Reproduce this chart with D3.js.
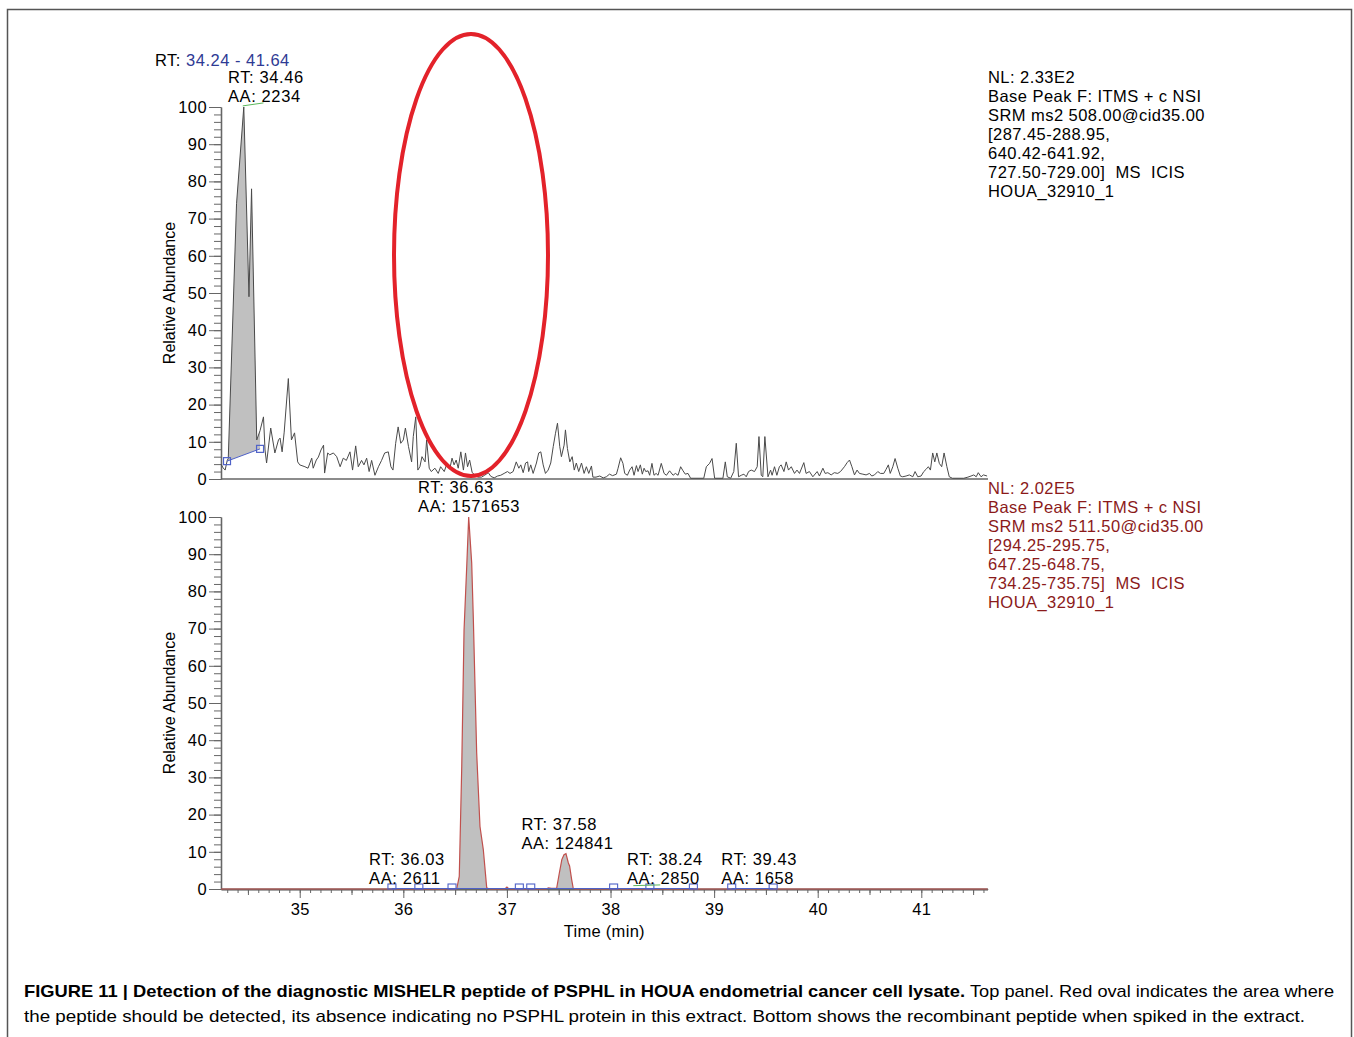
<!DOCTYPE html>
<html>
<head>
<meta charset="utf-8">
<script src="https://cdn.jsdelivr.net/npm/d3@7"></script>
<style>
  body { margin: 0; background: #fff; }
  svg { display: block; }
  text { font-family: "Liberation Sans", Arial, Helvetica, sans-serif; }
</style>
</head>
<body>
<svg width="1354" height="1037"></svg>
<script>
// ---- data ----
const timeRange = [34.24, 41.64];
const yTicks = [0, 10, 20, 30, 40, 50, 60, 70, 80, 90, 100];
const xTicks = [35, 36, 37, 38, 39, 40, 41];

// top panel: MISHELR in HOUA lysate (time min, relative abundance)
const topTrace = [
  [34.24,4],[34.26,3],[34.28,2.4],[34.30,5],[34.31,5.5],[34.39,74],[34.46,100],[34.51,49],[34.535,78],[34.585,10.5],
  [34.617,13],[34.65,16.7],[34.665,7.8],[34.68,4.3],[34.72,13.7],[34.76,7],[34.795,10.5],[34.81,11],[34.83,7.3],[34.85,12.6],
  [34.89,27],[34.92,10.5],[34.95,12.4],[34.98,4.6],[35.0,3.8],[35.05,3.3],[35.08,2.9],[35.116,5.6],[35.13,2.9],[35.16,5.1],
  [35.18,5.9],[35.205,7.8],[35.23,9.1],[35.24,1.6],[35.27,7],[35.29,6.5],[35.325,7],[35.357,6],[35.39,3.3],[35.42,5.6],
  [35.45,5],[35.485,7.3],[35.51,2.4],[35.54,8.9],[35.565,3.3],[35.597,5],[35.62,3.8],[35.646,5.6],[35.67,2],[35.694,5],
  [35.726,1],[35.76,3.3],[35.79,5],[35.82,7],[35.855,7.3],[35.88,3.3],[35.90,2.4],[35.926,9.6],[35.95,14],[35.975,9.6],
  [36.0,10.5],[36.02,13.7],[36.05,8.7],[36.08,4.6],[36.096,11.4],[36.12,16.7],[36.14,2.4],[36.16,3.3],[36.18,6],[36.21,4.6],
  [36.225,10.5],[36.25,2.9],[36.27,2],[36.305,2.9],[36.337,1.5],[36.36,3.3],[36.395,2],[36.417,3.8],[36.45,2.9],[36.47,5.6],
  [36.49,3.8],[36.51,5.1],[36.53,2.9],[36.555,7.3],[36.58,2.4],[36.60,7],[36.62,3.3],[36.64,5.1],[36.665,1.7],[36.69,1.1],
  [36.72,0.5],[36.755,0.5],[36.785,1],[36.82,1.7],[36.845,0.7],[36.877,0.3],[36.91,0.8],[36.94,1],[36.973,1.5],[37.005,2],
  [37.03,1.5],[37.06,2],[37.09,4.6],[37.115,2.9],[37.134,3.8],[37.157,1.7],[37.18,4.3],[37.20,4.6],[37.21,2],[37.23,3.8],
  [37.253,1.5],[37.285,4.3],[37.307,7],[37.327,7.3],[37.35,3.8],[37.372,1.5],[37.398,2.4],[37.423,4.3],[37.447,8.7],[37.469,12.3],
  [37.488,15],[37.51,8.7],[37.526,6],[37.552,9.1],[37.565,13.2],[37.584,8.2],[37.607,4.6],[37.63,6],[37.65,2.4],[37.67,4.3],
  [37.693,2],[37.72,4.3],[37.745,1.5],[37.767,3.3],[37.79,1.5],[37.816,3.5],[37.83,0.5],[37.86,0.5],[37.896,0.8],[37.93,0.3],
  [37.96,0.6],[37.99,1.3],[38.02,0.9],[38.057,1.3],[38.073,2.9],[38.098,5.7],[38.12,4.2],[38.137,1.5],[38.163,1],[38.185,2.4],
  [38.208,3.3],[38.227,1],[38.25,3.6],[38.266,2],[38.288,3.8],[38.307,1.3],[38.324,2.9],[38.34,2],[38.362,2.2],[38.378,1],
  [38.40,4.2],[38.42,1],[38.44,1.5],[38.459,1],[38.49,4.2],[38.517,1.5],[38.54,1],[38.57,2.2],[38.604,1],[38.626,1.5],
  [38.652,1],[38.677,3.3],[38.70,2.2],[38.722,1.3],[38.748,1.5],[38.773,0.2],[38.90,0.2],[38.925,3.3],[38.956,4.2],[38.98,5.5],
  [39.005,0.2],[39.085,0.2],[39.108,4.6],[39.127,0.6],[39.16,0.2],[39.19,2],[39.214,9.6],[39.236,0.6],[39.262,1],[39.288,1.3],
  [39.31,0.6],[39.333,2],[39.358,2.4],[39.39,2],[39.416,3.3],[39.433,11.4],[39.455,1],[39.47,0.6],[39.49,11.4],[39.52,0.6],
  [39.545,2.4],[39.56,1],[39.583,3.3],[39.606,1],[39.63,3.3],[39.647,3.8],[39.674,2],[39.696,4.6],[39.718,2.4],[39.745,3.3],
  [39.776,1.5],[39.80,2.4],[39.824,1.5],[39.866,4.4],[39.888,1.5],[39.92,2],[39.953,0.6],[39.995,2],[40.017,0.8],[40.05,2.9],
  [40.072,1.5],[40.098,1.7],[40.13,1.1],[40.16,1.7],[40.194,1.5],[40.22,2],[40.258,3.3],[40.284,4.4],[40.307,5.1],[40.33,3.3],
  [40.355,1.1],[40.38,2.4],[40.403,1.5],[40.436,1.3],[40.467,1.1],[40.50,1.5],[40.522,0.8],[40.548,1.1],[40.58,2],[40.605,1.5],
  [40.638,1.5],[40.66,2.6],[40.682,3.8],[40.70,1.5],[40.725,3.3],[40.747,5.5],[40.773,2.9],[40.798,0.8],[40.82,0.6],[40.853,0.8],
  [40.885,1.1],[40.918,0.6],[40.94,2],[40.966,0.6],[40.998,0.8],[41.024,2],[41.046,2.6],[41.068,3.3],[41.088,2.4],[41.11,7],
  [41.13,4.6],[41.15,7],[41.174,4.2],[41.197,3.3],[41.22,7],[41.247,3.3],[41.27,0.6],[41.30,0.2],[41.41,0.2],[41.45,0.5],
  [41.48,0.8],[41.507,1.1],[41.53,0.6],[41.55,1.7],[41.577,0.6],[41.60,1.1],[41.635,0.8]
];
const topPeakBase = [[34.298, 4.8], [34.617, 8.1]];
const topApexMark = [[34.45, 100.3], [34.65, 101.1]];
const topPeakLabels = [{ rt: "34.46", aa: "2234", t: 34.46, v: 100 }];
const topInfo = ["NL: 2.33E2", "Base Peak F: ITMS + c NSI", "SRM ms2 508.00@cid35.00",
  "[287.45-288.95,", "640.42-641.92,", "727.50-729.00]  MS  ICIS", "HOUA_32910_1"];

// bottom panel: spiked recombinant peptide
const bottomTrace = [
  [34.24,0],[36.515,0],[36.54,3.4],[36.564,33],[36.586,69.5],[36.612,86.7],[36.631,100],[36.66,87.6],[36.676,72.4],
  [36.708,36.6],[36.74,16.8],[36.772,10.6],[36.805,0.3],[36.83,0],[36.98,0],[37.0,0.5],[37.02,0],[37.38,0],[37.40,0.3],
  [37.43,0.2],[37.48,0.2],[37.506,4.3],[37.53,7.9],[37.551,9.2],[37.57,9.5],[37.593,7],[37.605,6.2],[37.625,2.5],
  [37.64,0.2],[37.66,0],[41.64,0]
];
const bottomPeaks = [[36.515, 36.805], [37.48, 37.64]];
const bottomMarkers = [35.89, 36.15, 36.47, 37.12, 37.23, 38.03, 38.38, 38.80, 39.17, 39.57];
const bottomBaseSegs = [[35.89, 38.80], [39.17, 39.57]];
const bottomApexMark = [[38.22, 0.9], [38.48, 1.1]];
const bottomPeakLabels = [
  { rt: "36.63", aa: "1571653", t: 36.63, v: 100 },
  { rt: "37.58", aa: "124841", t: 37.58, v: 9.5 },
  { rt: "36.03", aa: "2611", t: 36.03, v: 0 },
  { rt: "38.24", aa: "2850", t: 38.24, v: 0 },
  { rt: "39.43", aa: "1658", t: 39.43, v: 0 }
];
const bottomInfo = ["NL: 2.02E5", "Base Peak F: ITMS + c NSI", "SRM ms2 511.50@cid35.00",
  "[294.25-295.75,", "647.25-648.75,", "734.25-735.75]  MS  ICIS", "HOUA_32910_1"];

const captionBold = "FIGURE 11 | Detection of the diagnostic MISHELR peptide of PSPHL in HOUA endometrial cancer cell lysate.";
const captionRest1 = "Top panel. Red oval indicates the area where";
const captionLine2 = "the peptide should be detected, its absence indicating no PSPHL protein in this extract. Bottom shows the recombinant peptide when spiked in the extract.";

// ---- drawing ----
const svg = d3.select("svg");
const x = d3.scaleLinear().domain(timeRange).range([221, 987.6]);
const yTop = d3.scaleLinear().domain([0, 100]).range([479, 107]);
const yBot = d3.scaleLinear().domain([0, 100]).range([889, 517]);

svg.append("rect")
  .attr("x", 7.5).attr("y", 9.5).attr("width", 1344).attr("height", 1040)
  .attr("fill", "none").attr("stroke", "#555").attr("stroke-width", 1.5);

function interp(trace, t) {
  for (let i = 1; i < trace.length; i++) {
    if (trace[i][0] >= t) {
      const a = trace[i - 1], b = trace[i];
      return a[1] + (t - a[0]) / (b[0] - a[0]) * (b[1] - a[1]);
    }
  }
  return trace[trace.length - 1][1];
}

function drawYAxis(y) {
  const minor = svg.append("g").attr("transform", "translate(221,0)")
    .call(d3.axisLeft(y).tickValues(d3.range(0, 101, 2)).tickSize(7).tickSizeOuter(0).tickFormat(""));
  const major = svg.append("g").attr("transform", "translate(221,0)")
    .call(d3.axisLeft(y).tickValues(yTicks).tickSize(12).tickSizeOuter(0).tickPadding(2));
  [minor, major].forEach(g => {
    g.selectAll("line").attr("stroke", "#666");
    g.select(".domain").attr("stroke", "#666").attr("stroke-width", 1.3);
  });
  major.selectAll("text").attr("font-size", 16.5).attr("fill", "#000")
    .attr("letter-spacing", 0.4).style("font-family", "'Liberation Sans', Arial, sans-serif");
  svg.append("text")
    .attr("transform", `translate(175,${(y(0) + y(100)) / 2}) rotate(-90)`)
    .attr("text-anchor", "middle").attr("font-size", 16).text("Relative Abundance");
}

// the software nudges a label sideways when it would crowd a neighbour
const labelNudge = { "38.24": 29 };

function drawPeakLabels(list, y, color) {
  list.forEach(d => {
    const g = svg.append("g").attr("fill", color).attr("font-size", 16.5).attr("letter-spacing", 0.6);
    const base = y(d.v) - 5;
    const t1 = g.append("text").attr("y", base - 19).text(`RT: ${d.rt}`);
    const t2 = g.append("text").attr("y", base).text(`AA: ${d.aa}`);
    const w = Math.max(t1.node().getComputedTextLength(), t2.node().getComputedTextLength());
    const left = Math.max(x(d.t) - w / 2 + 0.5 + (labelNudge[d.rt] || 0), 228);
    t1.attr("x", left);
    t2.attr("x", left);
  });
}

function drawInfo(lines, top, color) {
  svg.append("g").selectAll("text").data(lines).enter().append("text")
    .attr("x", 988).attr("y", (d, i) => top + i * 19)
    .attr("font-size", 16.5).attr("letter-spacing", 0.45)
    .attr("fill", color).style("white-space", "pre").text(d => d);
}

// top panel
drawYAxis(yTop);
svg.append("line").attr("x1", 221).attr("x2", 988).attr("y1", yTop(0)).attr("y2", yTop(0))
  .attr("stroke", "#666").attr("stroke-width", 1.3);

const baseTop = t => topPeakBase[0][1] + (t - topPeakBase[0][0]) /
  (topPeakBase[1][0] - topPeakBase[0][0]) * (topPeakBase[1][1] - topPeakBase[0][1]);
const topFill = [[topPeakBase[0][0], interp(topTrace, topPeakBase[0][0])]]
  .concat(topTrace.filter(d => d[0] > topPeakBase[0][0] && d[0] < topPeakBase[1][0]))
  .concat([[topPeakBase[1][0], interp(topTrace, topPeakBase[1][0])]]);
svg.append("path").datum(topFill)
  .attr("d", d3.area().x(d => x(d[0])).y0(d => yTop(baseTop(d[0]))).y1(d => yTop(d[1])))
  .attr("fill", "#c0c0c0");
svg.append("path").datum(topTrace)
  .attr("d", d3.line().x(d => x(d[0])).y(d => yTop(d[1])))
  .attr("fill", "none").attr("stroke", "#4a4a4a").attr("stroke-width", 1);
svg.append("path").datum(topPeakBase)
  .attr("d", d3.line().x(d => x(d[0])).y(d => yTop(d[1])))
  .attr("fill", "none").attr("stroke", "#4f62c8").attr("stroke-width", 1);
svg.selectAll(".topMark").data(topPeakBase).enter().append("rect")
  .attr("x", d => x(d[0]) - 3.5).attr("y", d => yTop(d[1]) - 3.5)
  .attr("width", 7).attr("height", 7).attr("fill", "none")
  .attr("stroke", "#4f62c8").attr("stroke-width", 1.2);
svg.append("path").datum(topApexMark)
  .attr("d", d3.line().x(d => x(d[0])).y(d => yTop(d[1])))
  .attr("stroke", "#5cb85c").attr("stroke-width", 1);

const rangeLabel = svg.append("text").attr("x", 155).attr("y", 66).attr("font-size", 16.5).attr("letter-spacing", 0.5);
rangeLabel.append("tspan").attr("fill", "#000").text("RT: ");
rangeLabel.append("tspan").attr("fill", "#2e3a94").text(`${timeRange[0]} - ${timeRange[1]}`);
drawPeakLabels(topPeakLabels, yTop, "#000");
drawInfo(topInfo, 83, "#000");

// bottom panel
drawYAxis(yBot);
const xMinor = svg.append("g").attr("transform", `translate(0,${yBot(0)})`)
  .call(d3.axisBottom(x).tickValues(d3.range(343, 417).map(v => v / 10)).tickSize(4).tickSizeOuter(0).tickFormat(""));
const xMid = svg.append("g").attr("transform", `translate(0,${yBot(0)})`)
  .call(d3.axisBottom(x).tickValues([34.5, 35.5, 36.5, 37.5, 38.5, 39.5, 40.5, 41.5]).tickSize(6).tickSizeOuter(0).tickFormat(""));
const xMajor = svg.append("g").attr("transform", `translate(0,${yBot(0)})`)
  .call(d3.axisBottom(x).tickValues(xTicks).tickSize(9).tickSizeOuter(0).tickPadding(5));
[xMinor, xMid, xMajor].forEach(g => {
  g.selectAll("line").attr("stroke", "#666");
  g.select(".domain").attr("stroke", "#666").attr("stroke-width", 1.3);
});
xMajor.selectAll("text").attr("font-size", 16.5).attr("fill", "#000").attr("letter-spacing", 0.4)
  .style("font-family", "'Liberation Sans', Arial, sans-serif");
svg.append("text").attr("x", (x.range()[0] + x.range()[1]) / 2).attr("y", 937)
  .attr("text-anchor", "middle").attr("font-size", 16.5).attr("letter-spacing", 0.3).text("Time (min)");

bottomPeaks.forEach(p => {
  const pts = [[p[0], 0]].concat(bottomTrace.filter(d => d[0] > p[0] && d[0] < p[1])).concat([[p[1], 0]]);
  svg.append("path").datum(pts)
    .attr("d", d3.area().x(d => x(d[0])).y0(yBot(0)).y1(d => yBot(d[1])))
    .attr("fill", "#c0c0c0");
});
svg.append("path").datum(bottomTrace)
  .attr("d", d3.line().x(d => x(d[0])).y(d => yBot(d[1])))
  .attr("fill", "none").attr("stroke", "#c0504d").attr("stroke-width", 1.2);
bottomBaseSegs.forEach(s => {
  svg.append("line").attr("x1", x(s[0])).attr("x2", x(s[1]))
    .attr("y1", yBot(0) - 0.5).attr("y2", yBot(0) - 0.5)
    .attr("stroke", "#4f62c8").attr("stroke-width", 1.2);
});
svg.selectAll(".botMark").data(bottomMarkers).enter().append("rect")
  .attr("x", d => x(d) - 4).attr("y", yBot(0) - 5)
  .attr("width", 8).attr("height", 5).attr("fill", "none")
  .attr("stroke", "#4f62c8").attr("stroke-width", 1.1);
svg.append("path").datum(bottomApexMark)
  .attr("d", d3.line().x(d => x(d[0])).y(d => yBot(d[1])))
  .attr("stroke", "#5cb85c").attr("stroke-width", 1);
drawPeakLabels(bottomPeakLabels, yBot, "#000");
drawInfo(bottomInfo, 494, "#8b1a1a");

// red oval over the expected retention window
svg.append("ellipse")
  .attr("cx", 471).attr("cy", 255).attr("rx", 77).attr("ry", 221)
  .attr("fill", "none").attr("stroke", "#e3222a").attr("stroke-width", 4);

// caption
svg.append("text").attr("x", 24).attr("y", 997).attr("font-size", 17).attr("font-weight", "bold")
  .attr("textLength", 941).attr("lengthAdjust", "spacingAndGlyphs").text(captionBold);
svg.append("text").attr("x", 970).attr("y", 997).attr("font-size", 17)
  .attr("textLength", 364).attr("lengthAdjust", "spacingAndGlyphs").text(captionRest1);
svg.append("text").attr("x", 24).attr("y", 1022).attr("font-size", 17)
  .attr("textLength", 1281).attr("lengthAdjust", "spacingAndGlyphs").text(captionLine2);
</script>
</body>
</html>
